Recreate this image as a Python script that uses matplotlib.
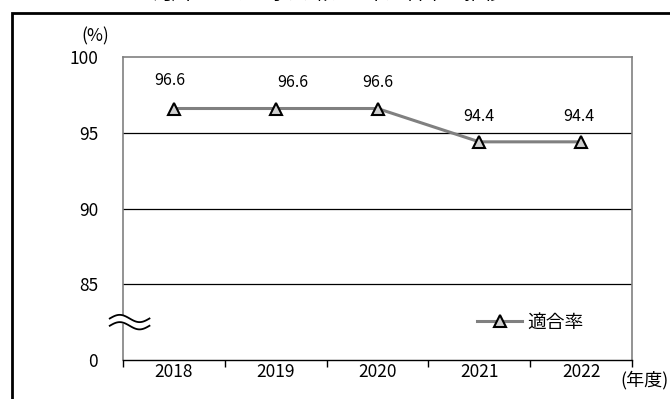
import numpy as np
import matplotlib
matplotlib.use("Agg")
import matplotlib.pyplot as plt
from matplotlib.patches import Rectangle

plt.rcParams["font.family"] = ["Noto Sans CJK JP", "DejaVu Sans"]

# ---------- data ----------
years = ["2018", "2019", "2020", "2021", "2022"]
rate = [96.6, 96.6, 96.6, 94.4, 94.4]
ytick_vals = [80, 85, 90, 95, 100]          # 80 stands in for the broken "0"
ytick_labels = ["0", "85", "90", "95", "100"]
title = "河川における水質環境基準適合率の推移"
label_dx = [-3, 12, 0, 0, -2]               # small nudges of value labels (pt)
label_dy = [20, 19, 19, 18, 18]

W, H = 670, 399
fig = plt.figure(figsize=(W / 100, H / 100), dpi=100)

# outer frame, clipped at right/bottom like the source
fig.patches.append(Rectangle((12 / W, -0.1), 1.2, 1.1 - 13 / H,
                             transform=fig.transFigure, fill=False,
                             edgecolor="black", lw=2))
# title, mostly cut off above the image (as in the source)
fig.text(0.49, 1 + 7 / H, title, ha="center", va="center", fontsize=14)

ax = fig.add_axes([123 / W, 1 - 360 / H, (632 - 123) / W, (360 - 57) / H])
x = np.arange(len(years))

ax.plot(x, rate, color="#808080", lw=2.2, marker="^", ms=8,
        mfc="#d0d0d0", mec="black", mew=1.5, label="適合率", zorder=3)
for xi, v, dx, dy in zip(x, rate, label_dx, label_dy):
    ax.annotate(f"{v:.1f}", (xi, v), xytext=(dx, dy), textcoords="offset points",
                ha="center", va="center", fontsize=11.5)

ax.set_xlim(-0.5, len(years) - 0.5)
ax.set_ylim(80, 100)
ax.set_yticks(ytick_vals)
ax.set_yticklabels(ytick_labels)
ax.set_xticks(x)
ax.set_xticklabels(years)
ax.set_xticks(np.arange(-0.5, len(years), 1.0), minor=True)
ax.tick_params(axis="x", which="major", length=0, pad=2, labelsize=12.5)
ax.tick_params(axis="x", which="minor", length=5, width=1, color="black", direction="out")
ax.tick_params(axis="y", length=0, pad=18, labelsize=12.5)

for v in ytick_vals[1:-1]:
    ax.axhline(v, color="black", lw=0.9, zorder=1)
for s in ("left", "right", "top"):
    ax.spines[s].set_color("#808080")
    ax.spines[s].set_linewidth(1.2)
ax.spines["bottom"].set_color("black")
ax.spines["bottom"].set_linewidth(1.0)

# axis break mark on the y axis
bx = np.linspace(-0.026, 0.052, 60)
wave = 0.012 * np.sin((bx - bx[0]) / (bx[-1] - bx[0]) * 2 * np.pi)
by = 0.125
ax.fill_between(bx, by - 0.012 + wave, by + 0.012 + wave, color="white",
                transform=ax.transAxes, clip_on=False, zorder=4)
for off in (-0.012, 0.012):
    ax.plot(bx, by + off + wave, color="black", lw=1.3,
            transform=ax.transAxes, clip_on=False, zorder=5)

ax.legend(loc="center", bbox_to_anchor=(0.8, 0.125), frameon=False,
          fontsize=13.5, handlelength=2.4, handletextpad=0.25)

fig.text(95 / W, 1 - 36 / H, "(%)", ha="center", va="center", fontsize=12.5)
fig.text(644 / W, 1 - 380 / H, "(年度)", ha="center", va="center", fontsize=13)

fig.savefig("out.png", dpi=100)
